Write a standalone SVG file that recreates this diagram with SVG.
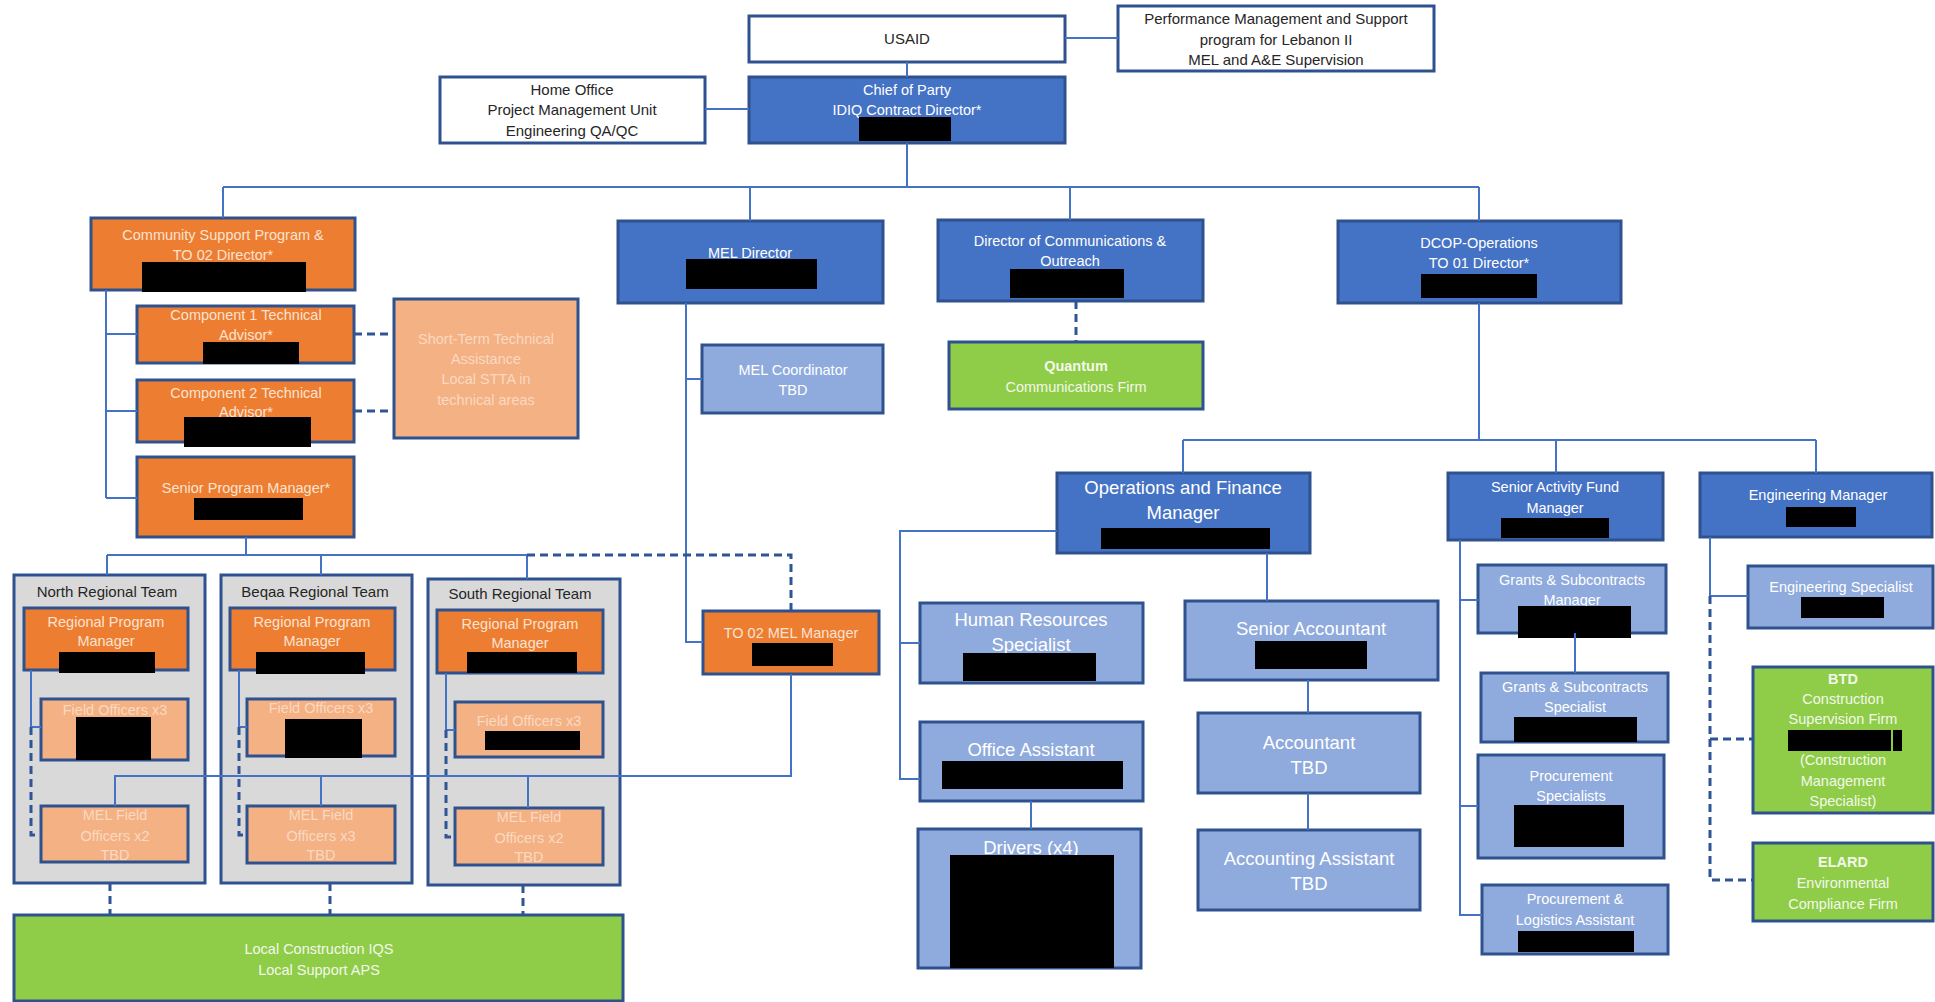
<svg xmlns="http://www.w3.org/2000/svg" width="1935" height="1002" viewBox="0 0 1935 1002">
<style>
  text { font-family: "Liberation Sans", Arial, sans-serif; font-size: 14.5px; text-anchor: middle; }
  .box { stroke: #2F528F; stroke-width: 3; }
  .white { fill: #FFFFFF; }
  .blue { fill: #4472C4; }
  .lblue { fill: #8FAADC; }
  .orange { fill: #ED7D31; }
  .lorange { fill: #F4B183; }
  .green { fill: #8FCC48; }
  .gray { fill: #D9D9D9; }
  .red { fill: #000000; }
  .td { fill: #262626; font-size: 15px; }
  .tw { fill: #FFFFFF; }
  .to { fill: #FBE3D1; }
  .tlo { fill: #FAD9C2; }
  .tg { fill: #F2F9EA; }
  .big { font-size: 18.5px; }
  .b { font-weight: bold; }
  .ln { fill: none; stroke: #4472C4; stroke-width: 2; }
  .dl { fill: none; stroke: #2F5597; stroke-width: 3; stroke-dasharray: 8 5; }
</style>

<g id="usaid"><rect class="box white" x="749" y="16" width="316" height="46"/><text class="td" x="907" y="44">USAID</text></g>
<g id="perf"><rect class="box white" x="1118" y="6" width="316" height="65"/>
  <text class="td" x="1276" y="24">Performance Management and Support</text>
  <text class="td" x="1276" y="45">program for Lebanon II</text>
  <text class="td" x="1276" y="65">MEL and A&amp;E Supervision</text></g>
<g id="home-office"><rect class="box white" x="440" y="77" width="265" height="66"/>
  <text class="td" x="572" y="95">Home Office</text>
  <text class="td" x="572" y="115">Project Management Unit</text>
  <text class="td" x="572" y="136">Engineering QA/QC</text></g>
<g id="chief"><rect class="box blue" x="749" y="77" width="316" height="66"/>
  <text class="tw" x="907" y="95">Chief of Party</text>
  <text class="tw" x="907" y="115">IDIQ Contract Director*</text>
  <rect class="red" x="859" y="117" width="92" height="24"/></g>

<g id="csp"><rect class="box orange" x="91" y="218" width="264" height="72"/>
  <text class="to" x="223" y="240">Community Support Program &amp;</text>
  <text class="to" x="223" y="260">TO 02 Director*</text>
  <rect class="red" x="142" y="262" width="164" height="30"/></g>
<g id="mel-director"><rect class="box blue" x="618" y="221" width="265" height="82"/>
  <text class="tw" x="750" y="258">MEL Director</text>
  <rect class="red" x="686" y="259" width="131" height="30"/></g>
<g id="comms"><rect class="box blue" x="938" y="220" width="265" height="81"/>
  <text class="tw" x="1070" y="246">Director of Communications &amp;</text>
  <text class="tw" x="1070" y="266">Outreach</text>
  <rect class="red" x="1010" y="269" width="114" height="29"/></g>
<g id="dcop"><rect class="box blue" x="1338" y="221" width="283" height="82"/>
  <text class="tw" x="1479" y="248">DCOP-Operations</text>
  <text class="tw" x="1479" y="268">TO 01 Director*</text>
  <rect class="red" x="1421" y="274" width="116" height="24"/></g>

<g id="comp1"><rect class="box orange" x="137" y="306" width="217" height="57"/>
  <text class="to" x="246" y="320">Component 1 Technical</text>
  <text class="to" x="246" y="340">Advisor*</text>
  <rect class="red" x="203" y="342" width="96" height="22"/></g>
<g id="comp2"><rect class="box orange" x="137" y="380" width="217" height="62"/>
  <text class="to" x="246" y="398">Component 2 Technical</text>
  <text class="to" x="246" y="417">Advisor*</text>
  <rect class="red" x="184" y="417" width="127" height="30"/></g>
<g id="spm"><rect class="box orange" x="137" y="457" width="217" height="80"/>
  <text class="to" x="246" y="493">Senior Program Manager*</text>
  <rect class="red" x="194" y="498" width="109" height="22"/></g>
<g id="stta"><rect class="box lorange" x="394" y="299" width="184" height="139"/>
  <text class="tlo" x="486" y="344">Short-Term Technical</text>
  <text class="tlo" x="486" y="364">Assistance</text>
  <text class="tlo" x="486" y="384">Local STTA in</text>
  <text class="tlo" x="486" y="405">technical areas</text></g>
<g id="mel-coordinator"><rect class="box lblue" x="702" y="345" width="181" height="68"/>
  <text class="tw" x="793" y="375">MEL Coordinator</text>
  <text class="tw" x="793" y="395">TBD</text></g>
<g id="quantum"><rect class="box green" x="949" y="342" width="254" height="67"/>
  <text class="tg b" x="1076" y="371">Quantum</text>
  <text class="tg" x="1076" y="392">Communications Firm</text></g>

<g id="north-team"><rect class="box gray" x="14" y="575" width="191" height="308"/>
  <text class="td" x="107" y="597">North Regional Team</text>
  <rect class="box orange" x="24" y="608" width="164" height="62"/>
  <text class="to" x="106" y="627">Regional Program</text>
  <text class="to" x="106" y="646">Manager</text>
  <rect class="red" x="59" y="652" width="96" height="21"/>
  <rect class="box lorange" x="41" y="699" width="147" height="61"/>
  <text class="tlo" x="115" y="715">Field Officers x3</text>
  <rect class="red" x="76" y="717" width="75" height="43"/>
  <rect class="box lorange" x="41" y="806" width="147" height="56"/>
  <text class="tlo" x="115" y="820">MEL Field</text>
  <text class="tlo" x="115" y="841">Officers x2</text>
  <text class="tlo" x="115" y="860">TBD</text></g>
<g id="beqaa-team"><rect class="box gray" x="221" y="575" width="191" height="308"/>
  <text class="td" x="315" y="597">Beqaa Regional Team</text>
  <rect class="box orange" x="230" y="608" width="165" height="62"/>
  <text class="to" x="312" y="627">Regional Program</text>
  <text class="to" x="312" y="646">Manager</text>
  <rect class="red" x="256" y="652" width="109" height="22"/>
  <rect class="box lorange" x="247" y="699" width="148" height="57"/>
  <text class="tlo" x="321" y="713">Field Officers x3</text>
  <rect class="red" x="285" y="719" width="77" height="39"/>
  <rect class="box lorange" x="247" y="806" width="148" height="57"/>
  <text class="tlo" x="321" y="820">MEL Field</text>
  <text class="tlo" x="321" y="841">Officers x3</text>
  <text class="tlo" x="321" y="860">TBD</text></g>
<g id="south-team"><rect class="box gray" x="428" y="579" width="192" height="306"/>
  <text class="td" x="520" y="599">South Regional Team</text>
  <rect class="box orange" x="437" y="610" width="166" height="63"/>
  <text class="to" x="520" y="629">Regional Program</text>
  <text class="to" x="520" y="648">Manager</text>
  <rect class="red" x="467" y="652" width="110" height="21"/>
  <rect class="box lorange" x="455" y="702" width="148" height="55"/>
  <text class="tlo" x="529" y="726">Field Officers x3</text>
  <rect class="red" x="485" y="731" width="95" height="19"/>
  <rect class="box lorange" x="455" y="808" width="148" height="57"/>
  <text class="tlo" x="529" y="822">MEL Field</text>
  <text class="tlo" x="529" y="843">Officers x2</text>
  <text class="tlo" x="529" y="862">TBD</text></g>
<g id="to02-mel"><rect class="box orange" x="703" y="611" width="176" height="63"/>
  <text class="to" x="791" y="638">TO 02 MEL Manager</text>
  <rect class="red" x="752" y="643" width="81" height="23"/></g>
<g id="local-construction"><rect class="box green" x="14" y="915" width="609" height="86"/>
  <text class="tg" x="319" y="954">Local Construction IQS</text>
  <text class="tg" x="319" y="975">Local Support APS</text></g>

<g id="ops"><rect class="box blue" x="1057" y="473" width="253" height="80"/>
  <text class="tw big" x="1183" y="494">Operations and Finance</text>
  <text class="tw big" x="1183" y="519">Manager</text>
  <rect class="red" x="1101" y="528" width="169" height="21"/></g>
<g id="safm"><rect class="box blue" x="1448" y="473" width="215" height="67"/>
  <text class="tw" x="1555" y="492">Senior Activity Fund</text>
  <text class="tw" x="1555" y="513">Manager</text>
  <rect class="red" x="1501" y="518" width="108" height="20"/></g>
<g id="eng-manager"><rect class="box blue" x="1700" y="473" width="232" height="64"/>
  <text class="tw" x="1818" y="500">Engineering Manager</text>
  <rect class="red" x="1786" y="507" width="70" height="20"/></g>

<g id="hr"><rect class="box lblue" x="920" y="603" width="223" height="80"/>
  <text class="tw big" x="1031" y="626">Human Resources</text>
  <text class="tw big" x="1031" y="651">Specialist</text>
  <rect class="red" x="963" y="653" width="133" height="28"/></g>
<g id="office-assistant"><rect class="box lblue" x="920" y="722" width="223" height="79"/>
  <text class="tw big" x="1031" y="756">Office Assistant</text>
  <rect class="red" x="942" y="761" width="181" height="28"/></g>
<g id="drivers"><rect class="box lblue" x="918" y="829" width="223" height="139"/>
  <text class="tw big" x="1031" y="854">Drivers (x4)</text>
  <rect class="red" x="950" y="855" width="164" height="113"/></g>
<g id="senior-accountant"><rect class="box lblue" x="1185" y="601" width="253" height="79"/>
  <text class="tw big" x="1311" y="635">Senior Accountant</text>
  <rect class="red" x="1255" y="641" width="112" height="28"/></g>
<g id="accountant"><rect class="box lblue" x="1198" y="713" width="222" height="80"/>
  <text class="tw big" x="1309" y="749">Accountant</text>
  <text class="tw big" x="1309" y="774">TBD</text></g>
<g id="accounting-assistant"><rect class="box lblue" x="1198" y="830" width="222" height="80"/>
  <text class="tw big" x="1309" y="865">Accounting Assistant</text>
  <text class="tw big" x="1309" y="890">TBD</text></g>

<g id="gsm"><rect class="box lblue" x="1478" y="565" width="188" height="68"/>
  <text class="tw" x="1572" y="585">Grants &amp; Subcontracts</text>
  <text class="tw" x="1572" y="605">Manager</text>
  <rect class="red" x="1518" y="606" width="113" height="32"/></g>
<g id="gss"><rect class="box lblue" x="1481" y="673" width="187" height="69"/>
  <text class="tw" x="1575" y="692">Grants &amp; Subcontracts</text>
  <text class="tw" x="1575" y="712">Specialist</text>
  <rect class="red" x="1514" y="717" width="123" height="25"/></g>
<g id="procurement-specialists"><rect class="box lblue" x="1478" y="755" width="186" height="103"/>
  <text class="tw" x="1571" y="781">Procurement</text>
  <text class="tw" x="1571" y="801">Specialists</text>
  <rect class="red" x="1514" y="805" width="110" height="42"/></g>
<g id="procurement-logistics"><rect class="box lblue" x="1482" y="885" width="186" height="69"/>
  <text class="tw" x="1575" y="904">Procurement &amp;</text>
  <text class="tw" x="1575" y="925">Logistics Assistant</text>
  <rect class="red" x="1518" y="931" width="116" height="21"/></g>
<g id="eng-specialist"><rect class="box lblue" x="1748" y="566" width="185" height="62"/>
  <text class="tw" x="1841" y="592">Engineering Specialist</text>
  <rect class="red" x="1801" y="597" width="83" height="21"/></g>
<g id="btd"><rect class="box green" x="1753" y="667" width="180" height="146"/>
  <text class="tg b" x="1843" y="684">BTD</text>
  <text class="tg" x="1843" y="704">Construction</text>
  <text class="tg" x="1843" y="724">Supervision Firm</text>
  <rect class="red" x="1788" y="730" width="103" height="21"/>
  <rect class="red" x="1893" y="730" width="9" height="21"/>
  <text class="tg" x="1843" y="765">(Construction</text>
  <text class="tg" x="1843" y="786">Management</text>
  <text class="tg" x="1843" y="806">Specialist)</text></g>
<g id="elard"><rect class="box green" x="1753" y="843" width="180" height="78"/>
  <text class="tg b" x="1843" y="867">ELARD</text>
  <text class="tg" x="1843" y="888">Environmental</text>
  <text class="tg" x="1843" y="909">Compliance Firm</text></g>

<g id="connectors">
  <path class="ln" d="M907 62V77 M1065 38H1118 M705 109H749 M907 143V187 M223 187H1479 M223 187V218 M750 187V221 M1070 187V220 M1479 187V221"/>
  <path class="dl" d="M1076 301V342"/>
  <path class="ln" d="M686 303V642H703 M686 379H702"/>
  <path class="ln" d="M106 290V498 M106 334H137 M106 411H137 M106 498H137"/>
  <path class="dl" d="M354 334H394 M354 411H394"/>
  <path class="ln" d="M246 537V555 M107 555H527 M107 555V575 M321 555V575 M527 555V579"/>
  <path class="dl" d="M527 555H791V611"/>
  <path class="ln" d="M31 670V727H41 M239 670V727H247 M446 673V730H455"/>
  <path class="dl" d="M31 727V835H41 M239 727V835H247 M446 730V837H455"/>
  <path class="ln" d="M791 674V776H115V806 M321 776V806 M528 776V808"/>
  <path class="dl" d="M110 883V915 M330 883V915 M523 885V915"/>
  <path class="ln" d="M1479 303V440 M1183 440H1816 M1183 440V473 M1556 440V473 M1816 440V473"/>
  <path class="ln" d="M1057 531H900V779H920 M900 643H920 M1031 801V829 M1267 553V601 M1308 680V713 M1308 793V830"/>
  <path class="ln" d="M1460 540V915H1482 M1460 600H1478 M1460 806H1478 M1575 633V673"/>
  <path class="ln" d="M1710 537V596H1748"/>
  <path class="dl" d="M1710 596V880H1753 M1710 739H1753"/>
</g>
</svg>
